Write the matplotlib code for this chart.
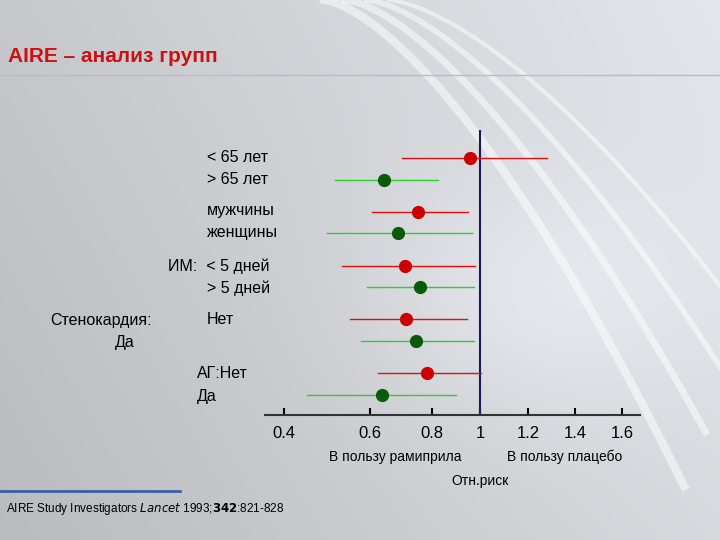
import numpy as np
import matplotlib
matplotlib.use("Agg")
import matplotlib.pyplot as plt
plt.rcParams['font.family'] = ['Liberation Sans', 'DejaVu Sans']

# data
rr   = [0.96, 0.645, 0.755, 0.69, 0.713, 0.761, 0.716, 0.748, 0.784, 0.639]
lo   = [0.703, 0.519, 0.606, 0.50, 0.535, 0.593, 0.553, 0.579, 0.626, 0.453]
hi   = [1.28, 0.825, 0.95, 0.967, 0.98, 0.975, 0.946, 0.975, 1.004, 0.90]
rows = [0, 1, 2.5, 3.5, 5, 6, 7.5, 8.5, 10, 11]
tick_vals = [0.4, 0.6, 0.8, 1.0, 1.2, 1.4, 1.6]
tick_labels = ["0.4", "0.6", "0.8", "1", "1.2", "1.4", "1.6"]

# axis geometry (non-uniform scale as in the original slide)
scale_pos = [0, 86, 148, 196, 244, 291, 338]

def fwd(v):
    v = np.asarray(v, float)
    return np.interp(v, tick_vals, scale_pos) + \
        np.where(v < 0.4, (v - 0.4) * 430, 0) + np.where(v > 1.6, (v - 1.6) * 235, 0)

def inv(p):
    p = np.asarray(p, float)
    return np.interp(p, scale_pos, tick_vals) + \
        np.where(p < 0, p / 430, 0) + np.where(p > 338, (p - 338) / 235, 0)

W, H = 720, 540
fig = plt.figure(figsize=(7.2, 5.4), dpi=100)

# background
bg = fig.add_axes([0, 0, 1, 1])
yy, xx = np.mgrid[0:1:270j, 0:1:360j]
img = 0.80 + 0.12 * xx - 0.05 * yy + 0.06 * np.exp(-((xx - 0.75) ** 2 + (yy - 0.55) ** 2) / 0.05)
rgb = np.dstack([img * 0.97, img * 0.98, img * 1.0])
bg.imshow(np.clip(rgb, 0, 1), extent=[0, 1, 0, 1], aspect="auto", origin="upper")
t = np.linspace(0, 1, 200)
for k in range(4):
    bg.plot(0.45 + 0.5 * t + 0.03 * k, 1 - t ** 1.5 * (0.9 - 0.1 * k), color="white", lw=6 - k, alpha=0.5)
bg.plot([0.0, 1.0], [1 - 75 / H, 1 - 75 / H], color="#b8bcc4", lw=1)
bg.plot([0.0, 180 / W], [1 - 491 / H, 1 - 491 / H], color="#3a5fa8", lw=2)
bg.set_xlim(0, 1); bg.set_ylim(0, 1); bg.axis("off")

def fx(x): return x / W
def fy(y): return 1 - y / H

fig.text(fx(8), fy(57), "AIRE – анализ групп", color="#cc1111", fontsize=15, weight="bold", va="center")

ax = fig.add_axes([fx(265), fy(415), (640 - 265) / W, (415 - 130) / H])
ax.set_xscale("function", functions=(fwd, inv))
ax.set_xlim(0.356, 1.677)
ax.set_ylim(11.94, -1.31)
ax.patch.set_alpha(0)
for s in ["top", "right", "left"]:
    ax.spines[s].set_visible(False)
ax.spines["bottom"].set_color("#333333")
ax.spines["bottom"].set_linewidth(1.5)
ax.set_yticks([])
ax.set_xticks(tick_vals)
ax.set_xticklabels(tick_labels, fontsize=12)
ax.tick_params(axis="x", direction="in", length=5, width=1.5, pad=8)
ax.axvline(1.0, ymin=0, ymax=1, color="#1a1a5a", lw=1.5)

for i, (r, l, h, y) in enumerate(zip(rr, lo, hi, rows)):
    c = "#dd1111" if i % 2 == 0 else "#33cc33"
    mc = "#cc0000" if i % 2 == 0 else "#0a5a0a"
    ax.plot([l, h], [y, y], color=c, lw=1)
    ax.plot(r, y, "o", color=mc, ms=8.5)

labels = [(207, 158, "< 65 лет"), (207, 179, "> 65 лет"), (207, 211, "мужчины"),
          (207, 233, "женщины"), (168, 266, "ИМ:  < 5 дней"), (207, 288, "> 5 дней"),
          (50, 320, "Стенокардия:"), (207, 320, "Нет"), (115, 342, "Да"),
          (197, 374, "АГ:Нет"), (197, 396, "Да")]
for x, y, s in labels:
    fig.text(fx(x), fy(y), s, fontsize=11.5, va="center", ha="left")

fig.text(fx(395), fy(457), "В пользу рамиприла", fontsize=10, ha="center", va="center")
fig.text(fx(565), fy(457), "В пользу плацебо", fontsize=10, ha="center", va="center")
fig.text(fx(480), fy(481), "Отн.риск", fontsize=10, ha="center", va="center")
fig.text(fx(6), fy(509), r"AIRE Study Investigators $\it{Lancet}$ 1993;$\bf{342}$:821-828",
         fontsize=8.5, ha="left", va="center")

fig.savefig("out.png", dpi=100)
